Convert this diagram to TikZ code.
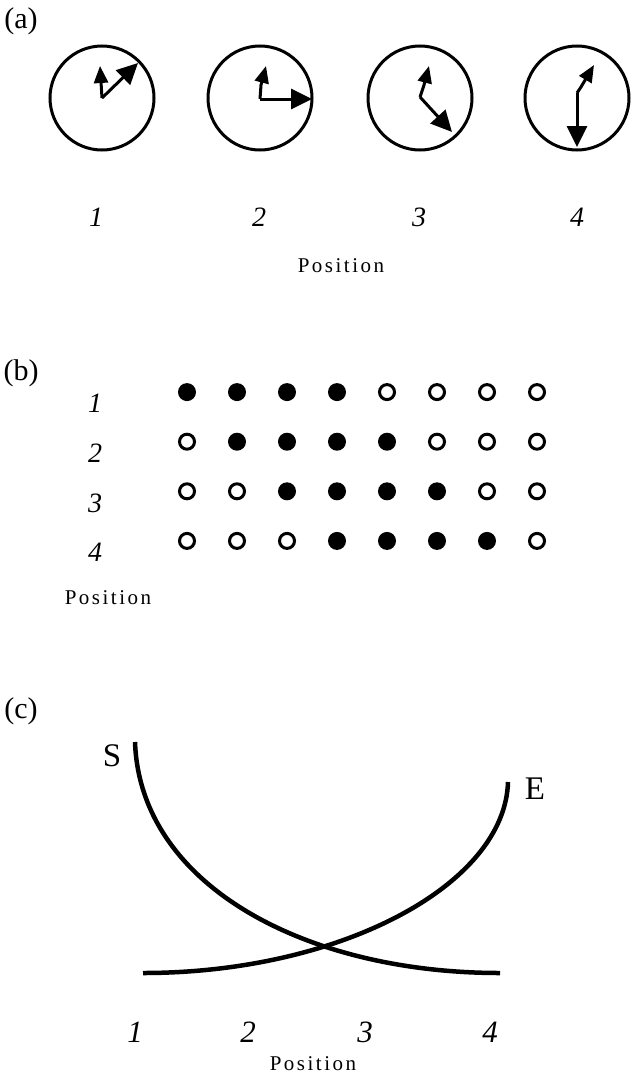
\documentclass[tikz,border=0pt]{standalone}
\usepackage{fontspec}
\setmainfont{Liberation Serif}
\usetikzlibrary{arrows.meta}

\tikzset{
  clockface/.style={line width=3pt},
  shorthand/.style={line width=3pt,-{Triangle[length=17pt,width=14pt]}},
  longhand/.style={line width=3pt,-{Triangle[length=21pt,width=20pt]}},
  partlabel/.style={font=\fontsize{30}{34}\selectfont},
  poslabel/.style={font=\fontsize{28}{32}\selectfont\itshape},
  bigposlabel/.style={font=\fontsize{31}{34}\selectfont\itshape},
  axislabel/.style={font=\fontsize{21}{24}\selectfont\addfontfeature{LetterSpace=12}},
  curvelabel/.style={font=\fontsize{33}{36}\selectfont},
  fullspin/.style={circle,fill=black,inner sep=0pt,minimum size=18pt},
  emptyspin/.style={circle,draw=black,line width=3pt,inner sep=0pt,minimum size=15pt},
  entcurve/.style={line width=4.5pt}
}

\begin{document}
\begin{tikzpicture}[x=1pt,y=-1pt]
\useasboundingbox (0,0) rectangle (632,1076);

% (a) clocks
\node[partlabel] (la) at (21,21) {(a)};
\draw[clockface] (102,98) circle[radius=52pt];
\draw[clockface] (260,98) circle[radius=52pt];
\draw[clockface] (420,98) circle[radius=52pt];
\draw[clockface] (577,98) circle[radius=52pt];
\draw[shorthand] (102,98) -- (100,66);
\draw[longhand] (102,98) -- (138,63);
\draw[shorthand] (260,99) -- (261,85) -- (266,66);
\draw[longhand] (260,99) -- (312,99);
\draw[shorthand] (420,97) -- (424,85) -- (429,66);
\draw[longhand] (420,97) -- (452,132);
\draw[shorthand] (577,93) -- (581,87) -- (594,65);
\draw[longhand] (577,93) -- (577,147);
\node[poslabel] (a1) at (96,217) {1};
\node[poslabel] (a2) at (259,217) {2};
\node[poslabel] (a3) at (419,217) {3};
\node[poslabel] (a4) at (577,217) {4};
\node[axislabel] (apos) at (341,266) {Position};

% (b) spins
\node[partlabel] (lb) at (21,373) {(b)};
\node[poslabel] (b1) at (95,403) {1};
\node[poslabel] (b2) at (95,453) {2};
\node[poslabel] (b3) at (95,503) {3};
\node[poslabel] (b4) at (95,552) {4};
\foreach \r in {1,...,4}
  \foreach \c in {1,...,8} {
    \pgfmathtruncatemacro\on{(\c>=\r)&&(\c<=\r+3)}
    \ifnum\on=1 \def\spin{fullspin}\else\def\spin{emptyspin}\fi
    \node[\spin] (s\r\c) at ({137+50*\c},{342.5+49.6*\r}) {};
  }
\node[axislabel] (bpos) at (108,598) {Position};

% (c) S and E
\node[partlabel] (lc) at (21,711) {(c)};
\draw[entcurve] (135,742) .. controls (140,885) and (305,973) .. (500,973);
\draw[entcurve] (143,973) .. controls (340,973) and (505,885) .. (508,782);
\node[curvelabel] (cs) at (112,756) {S};
\node[curvelabel] (ce) at (535,789) {E};
\node[bigposlabel] (c1) at (135,1032) {1};
\node[bigposlabel] (c2) at (248,1032) {2};
\node[bigposlabel] (c3) at (365,1032) {3};
\node[bigposlabel] (c4) at (490,1032) {4};
\node[axislabel] (cpos) at (313,1064) {Position};
\end{tikzpicture}
\end{document}
